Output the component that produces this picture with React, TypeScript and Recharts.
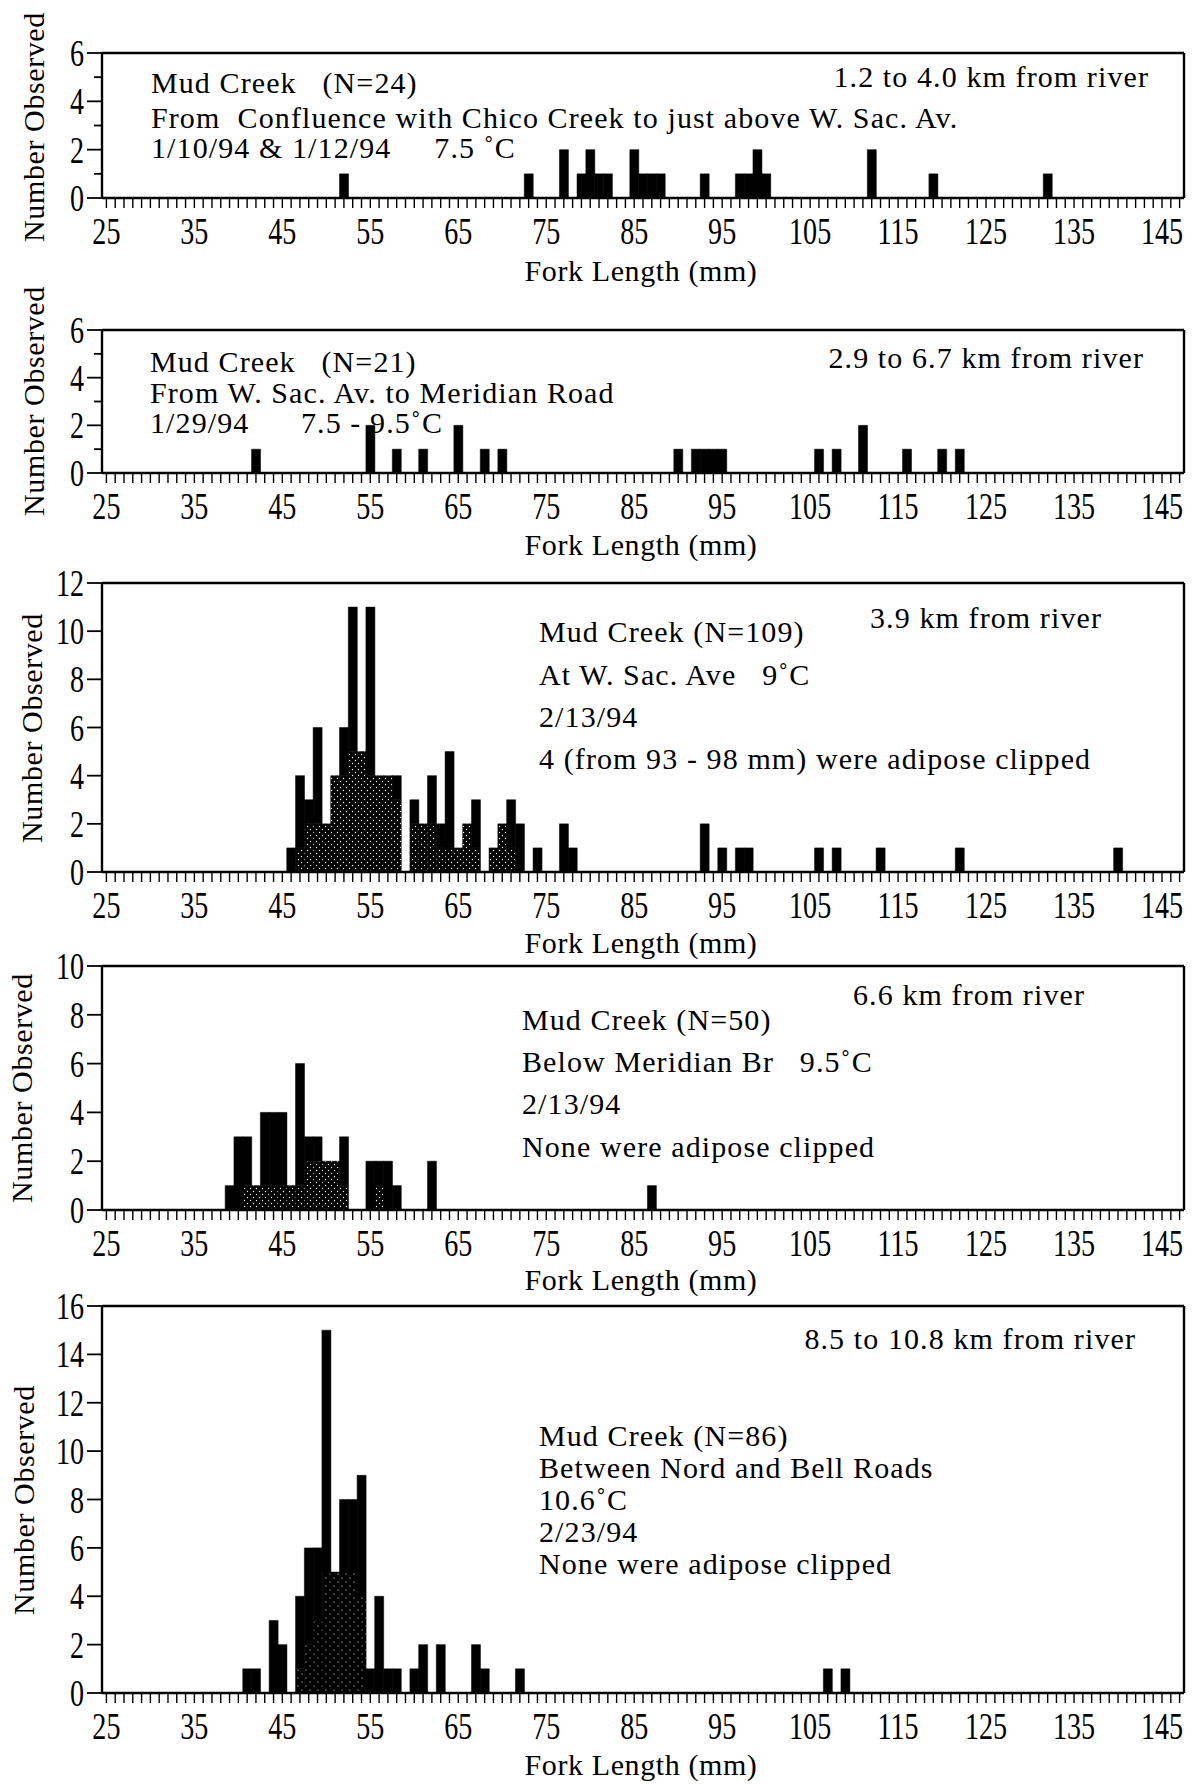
import React from 'react';
import { BarChart, Bar, XAxis, YAxis } from 'recharts';

// fork length bins (mm) on the x axis
const FORK_MIN = 25;
const FORK_MAX = 147;
const forkBins: number[] = [];
for (let m = FORK_MIN; m <= FORK_MAX; m++) forkBins.push(m);

// panel 1: confluence with Chico Creek to above W. Sac. Av.
const p1Len = [52, 73, 77, 79, 80, 81, 82, 85, 86, 87, 88, 93, 97, 98, 99, 100, 112, 119, 132];
const p1Cnt = [1, 1, 2, 1, 2, 1, 1, 2, 1, 1, 1, 1, 1, 1, 2, 1, 2, 1, 1];

// panel 2: W. Sac. Av. to Meridian Road
const p2Len = [42, 55, 58, 61, 65, 68, 70, 90, 92, 93, 94, 95, 106, 108, 111, 116, 120, 122];
const p2Cnt = [1, 2, 1, 1, 2, 1, 1, 1, 1, 1, 1, 1, 1, 1, 2, 1, 1, 1];

// panel 3: at W. Sac. Ave (stippled = lower shaded part of each bar)
const p3Len = [46, 47, 48, 49, 50, 51, 52, 53, 54, 55, 56, 57, 58, 60, 61, 62, 63, 64, 65, 66, 67, 69, 70, 71, 72, 74, 77, 78, 93, 95, 97, 98, 106, 108, 113, 122, 140];
const p3Cnt = [1, 4, 3, 6, 2, 4, 6, 11, 5, 11, 4, 4, 4, 3, 2, 4, 2, 5, 1, 2, 3, 1, 2, 3, 2, 1, 2, 1, 2, 1, 1, 1, 1, 1, 1, 1, 1];
const p3StipLen = [47, 48, 49, 50, 51, 52, 53, 54, 55, 56, 57, 58, 60, 61, 62, 63, 64, 65, 66, 67, 69, 70, 71];
const p3StipCnt = [1, 2, 2, 2, 4, 4, 5, 5, 4, 4, 4, 3, 2, 2, 2, 1, 1, 1, 2, 1, 1, 2, 1];

// panel 4: below Meridian Br
const p4Len = [39, 40, 41, 42, 43, 44, 45, 46, 47, 48, 49, 50, 51, 52, 55, 56, 57, 58, 62, 87];
const p4Cnt = [1, 3, 3, 1, 4, 4, 4, 1, 6, 3, 3, 2, 2, 3, 2, 2, 2, 1, 2, 1];
const p4StipLen = [41, 42, 43, 44, 45, 46, 47, 48, 49, 50, 51, 52, 56];
const p4StipCnt = [1, 1, 1, 1, 1, 1, 1, 2, 2, 2, 2, 1, 1];

// panel 5: between Nord and Bell Roads
const p5Len = [41, 42, 44, 45, 47, 48, 49, 50, 51, 52, 53, 54, 55, 56, 57, 58, 60, 61, 63, 67, 68, 72, 107, 109];
const p5Cnt = [1, 1, 3, 2, 4, 6, 6, 15, 5, 8, 8, 9, 1, 4, 1, 1, 1, 2, 2, 2, 1, 1, 1, 1];
const p5StipLen = [47, 48, 49, 50, 51, 52, 53, 54];
const p5StipCnt = [1, 2, 3, 5, 5, 5, 5, 4];

const buildRows = (len: number[], cnt: number[], sLen: number[] = [], sCnt: number[] = []) =>
  forkBins.map((mm) => {
    const i = len.indexOf(mm);
    const j = sLen.indexOf(mm);
    const total = i >= 0 ? cnt[i] : 0;
    const stip = j >= 0 ? Math.min(sCnt[j], total) : 0;
    return { mm, stip, rest: total - stip };
  });

const W = 1196;
const PLOT_L = 102;
const PLOT_R = 1184;
const TOP_PAD = 22;
const FONT = '"Liberation Serif", "Times New Roman", serif';

const XTick = (props: any) => {
  const { x, y, payload } = props;
  const v = payload.value as number;
  const major = (v - 25) % 10 === 0;
  return (
    <g>
      <line x1={x} x2={x} y1={y} y2={y + 10} stroke="#000" strokeWidth={1.4} />
      {major && (
        <text transform={`translate(${x},${y + 46}) scale(0.74,1)`} textAnchor="middle" fontSize={38} fontFamily={FONT} fill="#000">
          {v}
        </text>
      )}
    </g>
  );
};

const YTick = (props: any) => {
  const { x, y, payload } = props;
  const v = payload.value as number;
  const major = v % 2 === 0;
  return (
    <g>
      <line x1={x - (major ? 15 : 8)} x2={x} y1={y} y2={y} stroke="#000" strokeWidth={1.8} />
      {major && (
        <text transform={`translate(${x - 18},${y + 13}) scale(0.74,1)`} textAnchor="end" fontSize={38} fontFamily={FONT} fill="#000">
          {v}
        </text>
      )}
    </g>
  );
};

type PanelProps = {
  top: number;
  bottom: number;
  yMax: number;
  yTicks: number[];
  rows: any[];
  pattern?: string;
};

function Panel({ top, bottom, yMax, yTicks, rows, pattern }: PanelProps) {
  const h = bottom - top + TOP_PAD + 60;
  return (
    <div style={{ position: 'absolute', left: 0, top: top - TOP_PAD }}>
      <BarChart
        width={W}
        height={h}
        data={rows}
        barCategoryGap={0}
        barGap={0}
        margin={{ top: TOP_PAD - 1, right: W - PLOT_R - 1, bottom: 0, left: PLOT_L - 60 }}
      >
        <XAxis
          dataKey="mm"
          interval={0}
          tickSize={0}
          tickMargin={0}
          tickLine={false}
          tick={<XTick />}
          height={60}
          axisLine={{ stroke: '#000', strokeWidth: 2.4 }}
        />
        <XAxis xAxisId="top" dataKey="mm" orientation="top" height={1} tick={false} tickLine={false} axisLine={{ stroke: '#000', strokeWidth: 2.4 }} />
        <YAxis
          type="number"
          domain={[0, yMax]}
          ticks={yTicks}
          interval={0}
          width={60}
          tickSize={0}
          tickMargin={0}
          tickLine={false}
          tick={<YTick />}
          axisLine={{ stroke: '#000', strokeWidth: 2.4 }}
        />
        <YAxis yAxisId="right" orientation="right" type="number" domain={[0, yMax]} width={1} tick={false} tickLine={false} axisLine={{ stroke: '#000', strokeWidth: 2.4 }} />
        <Bar dataKey="stip" stackId="a" fill={pattern ? `url(#${pattern})` : '#000'} stroke="#000" strokeWidth={0.5} isAnimationActive={false} />
        <Bar dataKey="rest" stackId="a" fill="#000" stroke="#000" strokeWidth={0.5} isAnimationActive={false} />
      </BarChart>
    </div>
  );
}

const textStyle: React.CSSProperties = {
  position: 'absolute',
  fontFamily: FONT,
  fontSize: 30,
  letterSpacing: '1.1px',
  lineHeight: '30px',
  whiteSpace: 'pre',
  color: '#000',
};

const Note = ({ x, cy, children, right }: { x: number; cy: number; children: React.ReactNode; right?: boolean }) => (
  <div style={right ? { ...textStyle, right: W - x, top: cy - 15 } : { ...textStyle, left: x, top: cy - 15 }}>{children}</div>
);

const YTitle = ({ cx, cy, text }: { cx: number; cy: number; text: string }) => (
  <div
    style={{
      ...textStyle,
      fontSize: 30,
      letterSpacing: '0.6px',
      width: 300,
      textAlign: 'center',
      left: cx - 150,
      top: cy - 15,
      transform: 'rotate(-90deg)',
    }}
  >
    {text}
  </div>
);

const XTitle = ({ cy }: { cy: number }) => (
  <div style={{ ...textStyle, letterSpacing: '0.6px', width: 400, textAlign: 'center', left: 641 - 200, top: cy - 15 }}>
    Fork Length (mm)
  </div>
);

export default function App() {
  const odd6 = [0, 1, 2, 3, 4, 5, 6];
  return (
    <div style={{ position: 'absolute', left: 0, top: 0, width: W, height: 1784, background: '#fff', overflow: 'hidden' }}>
      <svg width={0} height={0} style={{ position: 'absolute' }}>
        <defs>
          <pattern id="stip" width="6" height="6" patternUnits="userSpaceOnUse">
            <rect width="6" height="6" fill="#000" />
            <circle cx="1.5" cy="1.5" r="0.7" fill="#fff" />
            <circle cx="4.5" cy="4.5" r="0.7" fill="#fff" />
          </pattern>
          <pattern id="stipFaint" width="8" height="8" patternUnits="userSpaceOnUse">
            <rect width="8" height="8" fill="#000" />
            <circle cx="2" cy="2" r="0.6" fill="#fff" />
            <circle cx="6" cy="6" r="0.6" fill="#fff" />
          </pattern>
        </defs>
      </svg>

      {/* annotation text sits under the charts so bars can cover it */}
      <Note x={151} cy={83}>{'Mud Creek   (N=24)'}</Note>
      <Note x={151} cy={118}>{'From  Confluence with Chico Creek to just above W. Sac. Av.'}</Note>
      <Note x={151} cy={148}>{'1/10/94 & 1/12/94     7.5 ˚C'}</Note>
      <Note x={1149} cy={77} right>{'1.2 to 4.0 km from river'}</Note>

      <Note x={150} cy={362}>{'Mud Creek   (N=21)'}</Note>
      <Note x={150} cy={393}>{'From W. Sac. Av. to Meridian Road'}</Note>
      <Note x={150} cy={423}>{'1/29/94      7.5 - 9.5˚C'}</Note>
      <Note x={1144} cy={358} right>{'2.9 to 6.7 km from river'}</Note>

      <Note x={539} cy={632}>{'Mud Creek (N=109)'}</Note>
      <Note x={539} cy={675}>{'At W. Sac. Ave   9˚C'}</Note>
      <Note x={539} cy={717}>{'2/13/94'}</Note>
      <Note x={539} cy={759}>{'4 (from 93 - 98 mm) were adipose clipped'}</Note>
      <Note x={1102} cy={618} right>{'3.9 km from river'}</Note>

      <Note x={522} cy={1020}>{'Mud Creek (N=50)'}</Note>
      <Note x={522} cy={1062}>{'Below Meridian Br   9.5˚C'}</Note>
      <Note x={522} cy={1104}>{'2/13/94'}</Note>
      <Note x={522} cy={1147}>{'None were adipose clipped'}</Note>
      <Note x={1085} cy={995} right>{'6.6 km from river'}</Note>

      <Note x={539} cy={1436}>{'Mud Creek (N=86)'}</Note>
      <Note x={539} cy={1468}>{'Between Nord and Bell Roads'}</Note>
      <Note x={539} cy={1500}>{'10.6˚C'}</Note>
      <Note x={539} cy={1532}>{'2/23/94'}</Note>
      <Note x={539} cy={1564}>{'None were adipose clipped'}</Note>
      <Note x={1136} cy={1339} right>{'8.5 to 10.8 km from river'}</Note>

      <Panel top={53} bottom={198} yMax={6} yTicks={odd6} rows={buildRows(p1Len, p1Cnt)} />
      <Panel top={330} bottom={473} yMax={6} yTicks={odd6} rows={buildRows(p2Len, p2Cnt)} />
      <Panel top={583} bottom={872} yMax={12} yTicks={[0, 2, 4, 6, 8, 10, 12]} rows={buildRows(p3Len, p3Cnt, p3StipLen, p3StipCnt)} pattern="stip" />
      <Panel top={966} bottom={1210} yMax={10} yTicks={[0, 2, 4, 6, 8, 10]} rows={buildRows(p4Len, p4Cnt, p4StipLen, p4StipCnt)} pattern="stip" />
      <Panel top={1306} bottom={1693} yMax={16} yTicks={[0, 2, 4, 6, 8, 10, 12, 14, 16]} rows={buildRows(p5Len, p5Cnt, p5StipLen, p5StipCnt)} pattern="stipFaint" />

      <YTitle cx={34} cy={127} text="Number Observed" />
      <YTitle cx={34} cy={401} text="Number Observed" />
      <YTitle cx={32} cy={728} text="Number Observed" />
      <YTitle cx={22} cy={1088} text="Number Observed" />
      <YTitle cx={24} cy={1500} text="Number Observed" />

      <XTitle cy={271} />
      <XTitle cy={545} />
      <XTitle cy={943} />
      <XTitle cy={1280} />
      <XTitle cy={1765} />
    </div>
  );
}
